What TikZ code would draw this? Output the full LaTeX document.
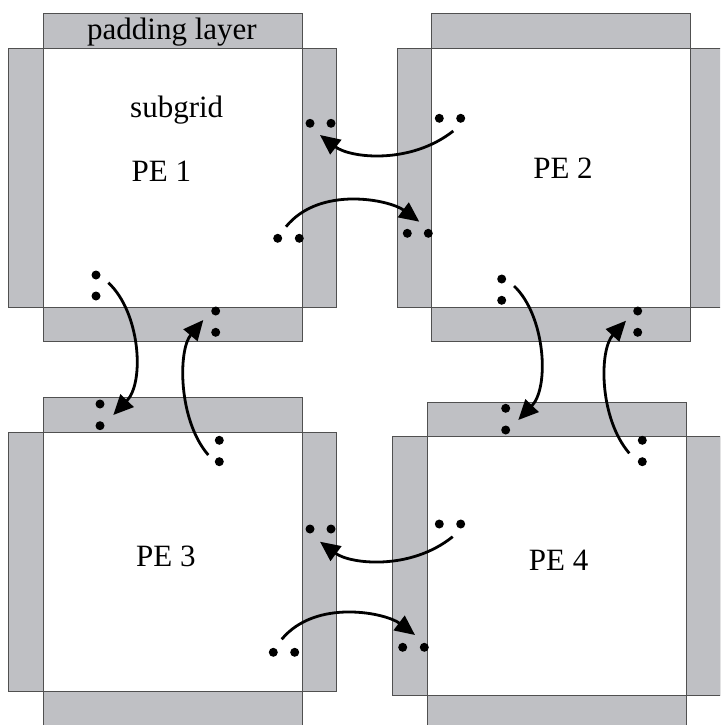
\documentclass[tikz,border=0pt]{standalone}
\usepackage{fontspec}
\setmainfont{Liberation Serif}
\usetikzlibrary{arrows.meta}
\definecolor{padgray}{RGB}{191,192,196}
\definecolor{edgegray}{RGB}{80,80,80}
\tikzset{
  padbox/.style={fill=padgray,draw=edgegray,line width=0.9pt},
  gridbox/.style={fill=white,draw=edgegray,line width=0.9pt},
  celldot/.style={circle,fill=black,inner sep=0pt,minimum size=9pt},
  xfer/.style={line width=2.8pt,-{Triangle[length=20pt,width=18pt]}},
  lbl/.style={font=\fontsize{31}{31}\selectfont,anchor=base,inner sep=0pt,text=black}
}
\begin{document}
\begin{tikzpicture}[x=1pt,y=-1pt]
\useasboundingbox (0,0) rectangle (720,725);
\begin{scope}
\clip (0,0) rectangle (720,725);
% subgrids with padding layers
\foreach \x/\y in {43.3/48.3, 431.7/48.3, 43.3/432.3, 427.3/436.7}{
  \draw[padbox] (\x,\y-34.4) rectangle (\x+259,\y);
  \draw[padbox] (\x,\y+259) rectangle (\x+259,\y+293.4);
  \draw[padbox] (\x-34.4,\y) rectangle (\x,\y+259);
  \draw[padbox] (\x+259,\y) rectangle (\x+293.4,\y+259);
  \draw[gridbox] (\x,\y) rectangle (\x+259,\y+259);
}
\end{scope}

% labels
\node[lbl] (padlbl) at (172,39.3) {padding layer};
\node[lbl] (sublbl) at (176.7,117.3) {subgrid};
\node[lbl] (pe1) at (161.3,181.7) {PE 1};
\node[lbl] (pe2) at (563,178.3) {PE 2};
\node[lbl] (pe3) at (165.8,566) {PE 3};
\node[lbl] (pe4) at (558.7,570.7) {PE 4};

% dots PE1
\node[celldot] (p1a1) at (310,123.3) {};
\node[celldot] (p1a2) at (331,123.3) {};
\node[celldot] (p1b1) at (277.7,238.3) {};
\node[celldot] (p1b2) at (299.3,238.3) {};
\node[celldot] (p1c1) at (96,275) {};
\node[celldot] (p1c2) at (96,296) {};
\node[celldot] (p1e1) at (215.7,311) {};
\node[celldot] (p1e2) at (215.7,332.3) {};
% dots PE2
\node[celldot] (p2a1) at (439.3,118.3) {};
\node[celldot] (p2a2) at (460.7,118.3) {};
\node[celldot] (p2b1) at (407.3,233.3) {};
\node[celldot] (p2b2) at (428.3,233.3) {};
\node[celldot] (p2c1) at (501.7,279) {};
\node[celldot] (p2c2) at (501.7,300.3) {};
\node[celldot] (p2e1) at (637.7,311) {};
\node[celldot] (p2e2) at (637.7,332.3) {};
% dots PE3
\node[celldot] (p3a1) at (100,404) {};
\node[celldot] (p3a2) at (100,425.7) {};
\node[celldot] (p3b1) at (219.3,440.3) {};
\node[celldot] (p3b2) at (219.3,461.7) {};
\node[celldot] (p3c1) at (310,529) {};
\node[celldot] (p3c2) at (331,529) {};
\node[celldot] (p3e1) at (273.3,652.3) {};
\node[celldot] (p3e2) at (294.7,652.3) {};
% dots PE4
\node[celldot] (p4a1) at (505.7,408.3) {};
\node[celldot] (p4a2) at (505.7,430) {};
\node[celldot] (p4b1) at (642.3,440.3) {};
\node[celldot] (p4b2) at (642.3,461.7) {};
\node[celldot] (p4c1) at (439.3,524) {};
\node[celldot] (p4c2) at (460.7,524) {};
\node[celldot] (p4e1) at (402.7,647.3) {};
\node[celldot] (p4e2) at (424.3,647.3) {};

% arrow end points
\coordinate (s1) at (453.3,131);   \coordinate (t1) at (320,135);
\coordinate (s2) at (286,226.7);   \coordinate (t2) at (419.3,221.7);
\coordinate (s3) at (108.3,282.7); \coordinate (t3) at (113.3,415);
\coordinate (s4) at (208.3,455);   \coordinate (t4) at (203.3,320);
\coordinate (s5) at (514,286);     \coordinate (t5) at (518.3,420);
\coordinate (s6) at (629.3,453.3); \coordinate (t6) at (626,320.7);
\coordinate (s7) at (452.7,536.7); \coordinate (t7) at (320,541.7);
\coordinate (s8) at (281.7,639.3); \coordinate (t8) at (415,635);

% exchange arrows
\draw[xfer] (s1) .. controls (410,165) and (350,158) .. (t1);
\draw[xfer] (s2) .. controls (320,185) and (390,200) .. (t2);
\draw[xfer] (s3) .. controls (140,312) and (145,382) .. (t3);
\draw[xfer] (s4) .. controls (178,420) and (178,350) .. (t4);
\draw[xfer] (s5) .. controls (545,315) and (550,387) .. (t5);
\draw[xfer] (s6) .. controls (599,418) and (599,350) .. (t6);
\draw[xfer] (s7) .. controls (410,571) and (350,564) .. (t7);
\draw[xfer] (s8) .. controls (316,598) and (386,613) .. (t8);
\end{tikzpicture}
\end{document}
